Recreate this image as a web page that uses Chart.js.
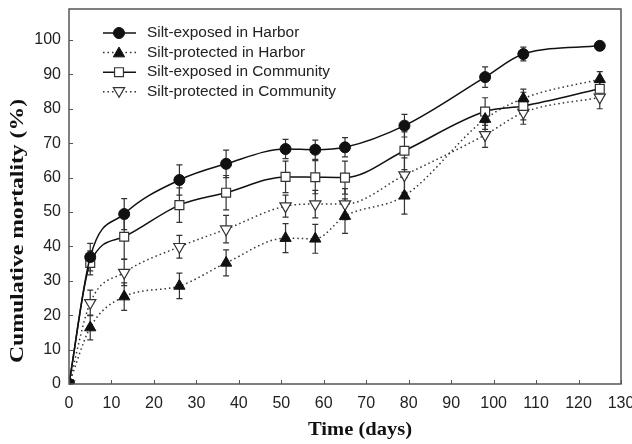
<!DOCTYPE html>
<html>
<head>
<meta charset="utf-8">
<script src="https://cdn.jsdelivr.net/npm/chart.js"></script>
<style>
  html, body { margin: 0; padding: 0; background: #fff; }
  #wrap { width: 632px; height: 444px; }
</style>
</head>
<body>
<div id="wrap"><canvas id="mortalityChart"></canvas></div>
<script>
// days sampled
const days = [0, 5, 13, 26, 37, 51, 58, 65, 79, 98, 107, 125];

// cumulative mortality (%) and error (+/-)
const exposedHarbor      = [0, 36.9, 49.4, 59.3, 64.0, 68.3, 68.1, 68.8, 75.1, 89.2, 95.9, 98.3];
const exposedHarborErr   = [0, 4, 4.5, 4.4, 4, 2.8, 2.8, 2.8, 3.3, 3, 2, 0];
const protectedHarbor    = [0, 16.4, 25.4, 28.5, 35.2, 42.4, 42.2, 48.8, 54.7, 77.0, 83.0, 88.6];
const protectedHarborErr = [0, 3.6, 4, 3.7, 3.8, 4.2, 4.2, 5, 5.3, 3, 2.7, 2.2];
const exposedComm        = [0, 35.2, 42.8, 52.0, 55.6, 60.2, 60.1, 60.0, 67.8, 79.2, 80.8, 85.8];
const exposedCommErr     = [0, 3.5, 6.5, 5, 5, 4.6, 4.8, 4.8, 5.5, 4, 4, 3];
const protectedComm      = [0, 23.6, 32.4, 39.9, 45.0, 51.7, 52.3, 52.3, 60.7, 72.4, 78.9, 83.3];
const protectedCommErr   = [0, 3.7, 3.8, 3.3, 4, 3.2, 4, 4.5, 5, 3.6, 3.4, 3.3];

const seriesLabels = [
  'Silt-exposed in Harbor',
  'Silt-protected in Harbor',
  'Silt-exposed in Community',
  'Silt-protected in Community'
];

const xTicks = [0, 10, 20, 30, 40, 50, 60, 70, 80, 90, 100, 110, 120, 130];

const toPoints = (vals) => vals.map((v, i) => ({x: days[i], y: v}));

const dotted = [1.5, 3];

const datasets = [
  {
    label: seriesLabels[0], data: toPoints(exposedHarbor), err: exposedHarborErr,
    borderColor: '#111', borderWidth: 1.5, borderDash: [],
    pointStyle: 'circle', pointRadius: 5.5, pointRotation: 0,
    pointBackgroundColor: '#111', pointBorderColor: '#111', pointBorderWidth: 1
  },
  {
    label: seriesLabels[1], data: toPoints(protectedHarbor), err: protectedHarborErr,
    borderColor: '#333', borderWidth: 1.5, borderDash: dotted,
    pointStyle: 'triangle', pointRadius: 6.5, pointRotation: 0,
    pointBackgroundColor: '#111', pointBorderColor: '#111', pointBorderWidth: 1
  },
  {
    label: seriesLabels[2], data: toPoints(exposedComm), err: exposedCommErr,
    borderColor: '#111', borderWidth: 1.5, borderDash: [],
    pointStyle: 'rect', pointRadius: 6.3, pointRotation: 0,
    pointBackgroundColor: '#fff', pointBorderColor: '#333', pointBorderWidth: 1.2
  },
  {
    label: seriesLabels[3], data: toPoints(protectedComm), err: protectedCommErr,
    borderColor: '#333', borderWidth: 1.5, borderDash: dotted,
    pointStyle: 'triangle', pointRadius: 6.5, pointRotation: 180,
    pointBackgroundColor: '#fff', pointBorderColor: '#333', pointBorderWidth: 1.2
  }
];
datasets.forEach(d => { d.fill = false; d.cubicInterpolationMode = 'monotone'; });

// error bars under the markers
const errorBars = {
  id: 'errorBars',
  beforeDatasetsDraw(chart) {
    const {ctx, scales: {x, y}} = chart;
    ctx.save();
    ctx.strokeStyle = '#333';
    ctx.lineWidth = 1.2;
    chart.data.datasets.forEach((ds) => {
      ds.data.forEach((p, i) => {
        const e = ds.err[i];
        if (!e) return;
        const px = x.getPixelForValue(p.x);
        const top = y.getPixelForValue(p.y + e);
        const bot = y.getPixelForValue(p.y - e);
        ctx.beginPath();
        ctx.moveTo(px, top); ctx.lineTo(px, bot);
        ctx.moveTo(px - 3, top); ctx.lineTo(px + 3, top);
        ctx.moveTo(px - 3, bot); ctx.lineTo(px + 3, bot);
        ctx.stroke();
      });
    });
    ctx.restore();
  }
};

// text squeezed/stretched to a target length along its direction
function fitText(ctx, text, cx, cy, width, angle) {
  const w = ctx.measureText(text).width;
  ctx.save();
  ctx.translate(cx, cy);
  ctx.rotate(angle);
  ctx.scale(width / w, 1);
  ctx.fillText(text, 0, 0);
  ctx.restore();
}

// frame, inner ticks, axis titles, legend
const decorations = {
  id: 'decorations',
  afterDraw(chart) {
    const {ctx, chartArea: a, scales: {x, y}} = chart;
    ctx.save();
    ctx.strokeStyle = '#555';
    ctx.lineWidth = 1.5;
    ctx.strokeRect(a.left, a.top, a.right - a.left, a.bottom - a.top);

    ctx.lineWidth = 1;
    ctx.beginPath();
    x.ticks.forEach(t => {
      const px = Math.round(x.getPixelForValue(t.value)) + 0.5;
      ctx.moveTo(px, a.bottom); ctx.lineTo(px, a.bottom - 4);
    });
    y.ticks.forEach(t => {
      const py = Math.round(y.getPixelForValue(t.value)) + 0.5;
      ctx.moveTo(a.left, py); ctx.lineTo(a.left + 4, py);
    });
    ctx.stroke();

    // axis titles
    ctx.fillStyle = '#111';
    ctx.font = "bold 19px 'Liberation Serif', 'Times New Roman', serif";
    ctx.textAlign = 'center';
    ctx.textBaseline = 'middle';
    fitText(ctx, 'Time (days)', 360, 430, 104, 0);
    fitText(ctx, 'Cumulative mortality (%)', 18, 231, 264, -Math.PI / 2);

    // legend
    ctx.font = "15.4px 'Liberation Sans', Arial, sans-serif";
    ctx.textAlign = 'left';
    chart.data.datasets.forEach((ds, i) => {
      const ly = 33 + i * 19.6;
      ctx.save();
      ctx.strokeStyle = ds.borderColor;
      ctx.lineWidth = 1.5;
      ctx.setLineDash(ds.borderDash);
      ctx.beginPath();
      ctx.moveTo(103, ly); ctx.lineTo(136, ly);
      ctx.stroke();
      ctx.restore();
      ctx.save();
      ctx.fillStyle = ds.pointBackgroundColor;
      ctx.strokeStyle = ds.pointBorderColor;
      ctx.lineWidth = ds.pointBorderWidth;
      Chart.helpers.drawPoint(ctx, {
        pointStyle: ds.pointStyle, radius: ds.pointRadius,
        rotation: ds.pointRotation, borderWidth: ds.pointBorderWidth
      }, 119, ly + (ds.pointStyle === 'triangle' ? (ds.pointRotation ? -1 : 1) : 0));
      ctx.restore();
      ctx.fillStyle = '#222';
      ctx.fillText(ds.label, 147, ly);
    });
    ctx.restore();
  }
};

const tickFont = {family: "'Liberation Sans', Arial, sans-serif", size: 16};

new Chart(document.getElementById('mortalityChart'), {
  type: 'line',
  data: {datasets},
  options: {
    responsive: true,
    maintainAspectRatio: false,
    animation: false,
    layout: {padding: {top: 9, right: 11, left: 0, bottom: 0}},
    plugins: {legend: {display: false}, tooltip: {enabled: false}},
    scales: {
      x: {
        type: 'linear', min: 0, max: 130,
        afterBuildTicks: (s) => { s.ticks = xTicks.map(v => ({value: v})); },
        afterFit: (s) => { s.height = 60; s.paddingLeft = 0; s.paddingRight = 0; },
        grid: {display: false, drawTicks: false},
        border: {display: false},
        ticks: {color: '#222', font: tickFont, padding: 10, maxRotation: 0, autoSkip: false}
      },
      y: {
        type: 'linear', min: 0, max: 109,
        afterFit: (s) => { s.width = 69; s.paddingTop = 0; s.paddingBottom = 0; },
        grid: {display: false, drawTicks: false},
        border: {display: false},
        ticks: {color: '#222', font: tickFont, padding: 8, stepSize: 10, includeBounds: false}
      }
    }
  },
  plugins: [errorBars, decorations]
});
</script>
</body>
</html>
